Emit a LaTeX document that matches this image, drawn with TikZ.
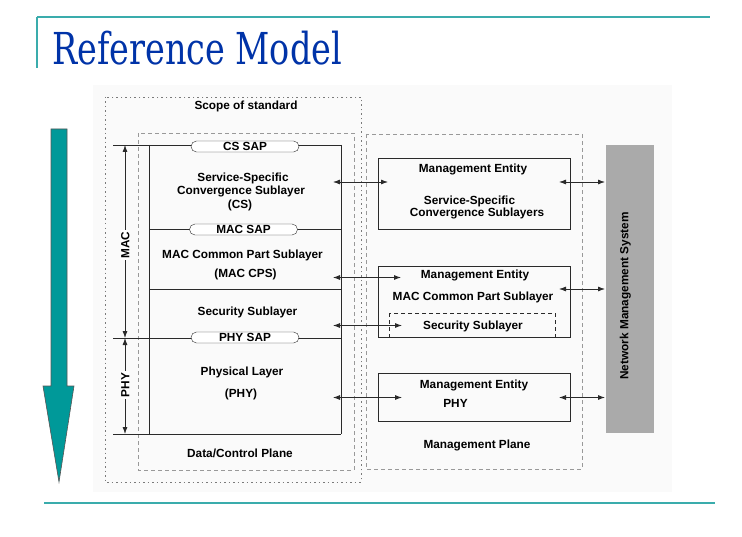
\documentclass[tikz,border=0pt]{standalone}
\usepackage{fontspec}
\setmainfont{Liberation Sans}
\newfontfamily\titlefont{DejaVu Serif Condensed}
\usetikzlibrary{arrows.meta}
\definecolor{titleblue}{HTML}{0033A8}
\definecolor{tealline}{HTML}{3AACAC}
\definecolor{tealfill}{HTML}{009999}
\definecolor{ink}{HTML}{2A2A2A}
\definecolor{dashgray}{HTML}{999999}
\definecolor{nmsgray}{HTML}{AAAAAA}
\begin{document}
\begin{tikzpicture}[x=1bp,y=-1bp,
  lbl/.style={font=\bfseries\fontsize{11.8bp}{13bp}\selectfont, text=black, inner sep=0pt, text height=8.5bp, text depth=0pt, anchor=center},
  sap/.style={draw=ink, fill=white, rounded corners=5.5bp, minimum width=108bp, minimum height=11bp, inner sep=0pt, font=\bfseries\fontsize{11.8bp}{13bp}\selectfont, text height=8.5bp, text depth=0pt},
  conn/.style={draw=ink, line width=0.8bp},
  biarrow/.style={conn, {Latex[length=7bp,width=5bp]}-{Latex[length=7bp,width=5bp]}},
  mebox/.style={draw=ink, line width=0.9bp},
  dashbox/.style={draw=dashgray, line width=0.7bp, dash pattern=on 4bp off 3bp},
  dotbox/.style={draw=dashgray!80!black, line width=0.8bp, dash pattern=on 1.5bp off 3bp},
  dimlbl/.style={lbl, fill=white, rotate=90, inner xsep=2bp}
]
\useasboundingbox (0,0) rectangle (742,537);
\fill[white] (0,0) rectangle (742,537);
% slide frame
\draw[tealline, line width=1.5bp] (37,17) -- (710,17);
\draw[tealline, line width=1.2bp] (37,17) -- (37,68);
\draw[tealline, line width=1.5bp] (44,503) -- (715,503);
\node[font=\titlefont\fontsize{44bp}{50bp}\selectfont, text=titleblue, anchor=base west, inner sep=0pt, xscale=0.845] (title) at (52,65) {Reference Model};
% faint background
\fill[black!2] (93,85) rectangle (672,492);
% teal arrow
\draw[fill=tealfill, draw=ink!80, line width=0.6bp] (51,129) -- (67,129) -- (67,386) -- (74,386) -- (59,482) -- (43,386) -- (51,386) -- cycle;
% planes
\draw[dotbox] (105,97) rectangle (361,482);
\node[lbl] (scope) at (246,105) {Scope of standard};
\draw[dashbox] (138,133) rectangle (354,470);
\draw[dashbox] (366,134) rectangle (582,469);
\node[lbl] (dcp) at (240,453) {Data/Control Plane};
\node[lbl] (mp) at (477,444) {Management Plane};
% stack
\draw[conn] (113,145) -- (341,145);
\draw[conn] (149,229) -- (341,229);
\draw[conn] (149,289) -- (341,289);
\draw[conn] (113,338) -- (341,338);
\draw[conn] (113,434) -- (341,434);
\draw[conn] (149,145) -- (149,434);
\draw[conn] (341,145) -- (341,434);
\node[sap] (cssap) at (245,146.5) {CS SAP};
\node[sap] (macsap) at (243.5,229.5) {MAC SAP};
\node[sap] (physap) at (245,337.5) {PHY SAP};
\node[lbl] (cs1) at (243,177) {Service-Specific};
\node[lbl] (cs2) at (241,190.5) {Convergence Sublayer};
\node[lbl] (cs3) at (240,204) {(CS)};
\node[lbl] (cps1) at (242.5,254) {MAC Common Part Sublayer};
\node[lbl] (cps2) at (245.5,273) {(MAC CPS)};
\node[lbl] (sec) at (247.5,311) {Security Sublayer};
\node[lbl] (phy1) at (242,371) {Physical Layer};
\node[lbl] (phy2) at (241,393) {(PHY)};
% dimension arrows
\coordinate (macT) at (125,145);
\coordinate (macB) at (125,338);
\coordinate (phyB) at (125,434);
\draw[biarrow] (macT) -- (macB);
\draw[biarrow] (macB) -- (phyB);
\node[dimlbl] (maclbl) at (125,245) {MAC};
\node[dimlbl] (phylbl) at (125,385) {PHY};
% management entities
\draw[mebox] (378,158) rectangle (570,229);
\draw[mebox] (378,266) rectangle (570,337);
\draw[dashbox, draw=ink] (389,313) rectangle (555,337);
\draw[mebox] (378,373) rectangle (570,421);
\node[lbl] (me1) at (473,168) {Management Entity};
\node[lbl] (me1a) at (469.5,200) {Service-Specific};
\node[lbl] (me1b) at (477,212.5) {Convergence Sublayers};
\node[lbl] (me2) at (475,274.5) {Management Entity};
\node[lbl] (me2a) at (473,296) {MAC Common Part Sublayer};
\node[lbl] (me2b) at (473,325) {Security Sublayer};
\node[lbl] (me3) at (474,384) {Management Entity};
\node[lbl] (me3a) at (455.5,403) {PHY};
% network management system
\fill[nmsgray] (606,145) rectangle (654,433);
\node[lbl, rotate=90] (nms) at (624,296) {Network Management System};
% connectors data plane <-> management plane
\coordinate (sL1) at (333,182); \coordinate (mR1) at (388,182);
\coordinate (sL2) at (333,277.5); \coordinate (mR2) at (401,277.5);
\coordinate (sL3) at (333,325.5); \coordinate (mR3) at (402,325.5);
\coordinate (sL4) at (333,397.5); \coordinate (mR4) at (402,397.5);
\draw[biarrow] (sL1) -- (mR1);
\draw[biarrow] (sL2) -- (mR2);
\draw[biarrow] (sL3) -- (mR3);
\draw[biarrow] (sL4) -- (mR4);
% connectors management plane <-> NMS
\coordinate (eA1) at (559,182); \coordinate (nA1) at (605,182);
\coordinate (eA2) at (559,289); \coordinate (nA2) at (605,289);
\coordinate (eA3) at (559,397.5); \coordinate (nA3) at (605,397.5);
\draw[biarrow] (eA1) -- (nA1);
\draw[biarrow] (eA2) -- (nA2);
\draw[biarrow] (eA3) -- (nA3);
\end{tikzpicture}
\end{document}
